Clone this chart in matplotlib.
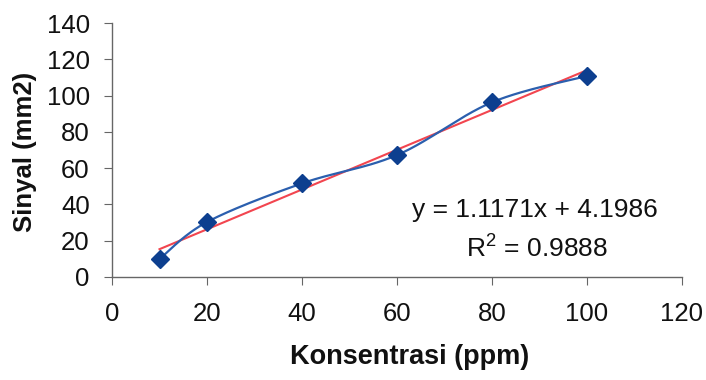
import numpy as np
import matplotlib
matplotlib.use('Agg')
import matplotlib.pyplot as plt

plt.rcParams['font.family'] = ['Liberation Sans', 'DejaVu Sans']
plt.rcParams['mathtext.fontset'] = 'custom'
plt.rcParams['mathtext.rm'] = 'Liberation Sans'

# Data
konsentrasi = [10, 20, 40, 60, 80, 100]
sinyal = [9.9, 30.3, 51.6, 67.2, 96.3, 110.8]
equation_text = 'y = 1.1171x + 4.1986'
r2_text = 'R$^\\mathrm{2}$ = 0.9888'


def smooth_line(x, y, n=30):
    # Catmull-Rom style smoothing, like Excel's "smoothed line"
    x = np.asarray(x, float)
    y = np.asarray(y, float)
    px = np.concatenate([[x[0]], x, [x[-1]]])
    py = np.concatenate([[y[0]], y, [y[-1]]])
    out_x, out_y = [], []
    t = np.linspace(0, 1, n)
    for i in range(1, len(px) - 2):
        p0, p1, p2, p3 = (np.array([px[j], py[j]]) for j in range(i - 1, i + 3))
        c1 = p1 + (p2 - p0) / 6
        c2 = p2 - (p3 - p1) / 6
        pts = ((1 - t) ** 3)[:, None] * p1 + (3 * (1 - t) ** 2 * t)[:, None] * c1 \
            + (3 * (1 - t) * t ** 2)[:, None] * c2 + (t ** 3)[:, None] * p2
        out_x.extend(pts[:, 0])
        out_y.extend(pts[:, 1])
    return out_x, out_y


fig = plt.figure(figsize=(7.06, 3.8), dpi=100)
ax = fig.add_axes([112 / 706, 1 - 277 / 380, 570 / 706, 254 / 380])

sx, sy = smooth_line(konsentrasi, sinyal)
ax.plot(sx, sy, color='#2b5fae', lw=1.6, zorder=3)

# linear trendline
slope, intercept = np.polyfit(konsentrasi, sinyal, 1)
tx = np.array([konsentrasi[0], konsentrasi[-1]])
ax.plot(tx, slope * tx + intercept, color='#f2454f', lw=1.5, zorder=2)

ax.plot(konsentrasi, sinyal, linestyle='none', marker='D', markersize=9,
        color='#0d3f8f', zorder=4)

ax.set_xlim(0, 120)
ax.set_ylim(0, 140)
ax.set_xticks(range(0, 121, 20))
ax.set_yticks(range(0, 141, 20))
for s in ['top', 'right']:
    ax.spines[s].set_visible(False)
for s in ['left', 'bottom']:
    ax.spines[s].set_color('#666666')
    ax.spines[s].set_linewidth(1.0)
ax.tick_params(axis='both', direction='out', length=6, color='#666666',
               labelsize=18.5, labelcolor='#111111')
ax.tick_params(axis='x', pad=12)
ax.tick_params(axis='y', pad=10)

fig.text(410 / 706, 1 - 357 / 380, 'Konsentrasi (ppm)', ha='center', va='center',
         fontsize=19.5, fontweight='bold', color='#111111')
fig.text(25 / 706, 1 - 152 / 380, 'Sinyal (mm2)', ha='center', va='center',
         rotation=90, fontsize=18.5, fontweight='bold', color='#111111')

fig.text(535 / 706, 1 - 210 / 380, equation_text, ha='center', va='center',
         fontsize=19, color='#111111')
fig.text(537 / 706, 1 - 248 / 380, r2_text, ha='center', va='center',
         fontsize=19, color='#111111')

fig.savefig('out.png', dpi=100, facecolor='white')
